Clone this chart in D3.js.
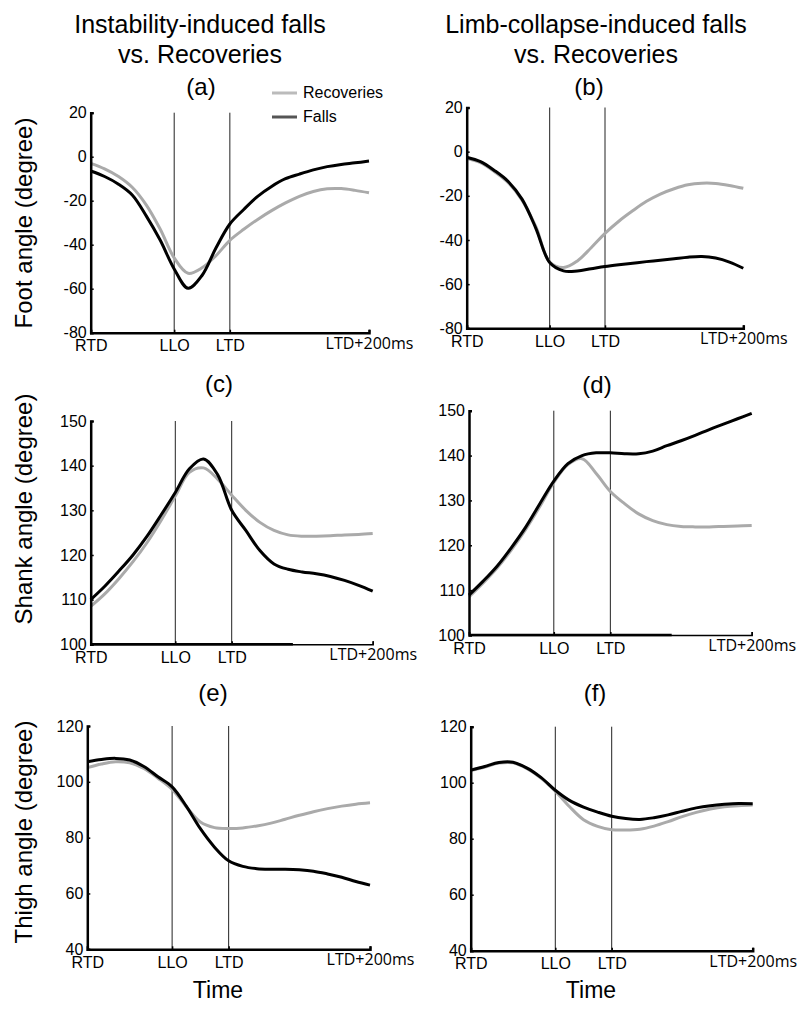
<!DOCTYPE html>
<html>
<head>
<meta charset="utf-8">
<script src="https://cdn.jsdelivr.net/npm/d3@7"></script>
<style>
  body { margin: 0; background: #fff; }
  svg { display: block; font-family: "Liberation Sans", Arial, sans-serif; }
</style>
</head>
<body>
<div id="chart"></div>
<script>
// normalised time (% of RTD -> LTD+200ms)
var timePct = [0, 5, 10, 15, 20, 25, 30, 35, 40, 45, 50, 55, 60, 65, 70, 75, 80, 85, 90, 95, 100];
var eventTicks = [0, 30, 50, 100];
var eventLabels = ["RTD", "LLO", "LTD", "LTD+200ms"];
var eventLines = [30, 50];

var footTicks = [-80, -60, -40, -20, 0, 20];
var shankTicks = [100, 110, 120, 130, 140, 150];
var thighTicks = [40, 60, 80, 100, 120];

// (a) foot, instability falls vs recoveries
var footRecA = [-3, -5.5, -9, -14, -22, -33, -46, -53, -50.5, -45, -38, -33, -28.5, -24.5, -21, -18, -15.8, -14.6, -14.5, -15.3, -16.4];
var footFallA = [-6.5, -9, -12.5, -17.5, -27, -38, -51, -59.8, -54, -41.5, -30.6, -24, -18, -13.5, -10, -7.9, -6, -4.5, -3.5, -2.8, -2];
// (b) foot, limb-collapse falls vs recoveries
var footRecB = [-3, -5, -9, -14, -22, -34, -50, -52.5, -49.5, -43.5, -37, -31.5, -26.8, -22.5, -19.2, -16.8, -15, -14.3, -14.4, -15.3, -16.6];
var footFallB = [-2.5, -4.5, -8.5, -13.5, -21.5, -34.7, -50.2, -54, -54, -53, -52, -51.2, -50.5, -49.8, -49.2, -48.5, -47.8, -47.5, -48.2, -50, -52.8];
// (c) shank, instability
var shankRecC = [108.5, 111.3, 114.7, 118.5, 122.8, 127.8, 133.2, 138.5, 139.5, 137, 133.4, 130, 127.3, 125.5, 124.5, 124.2, 124.2, 124.3, 124.5, 124.6, 124.8];
var shankFallC = [110, 113, 116.4, 120, 124.2, 129, 134, 139.3, 141.5, 138, 130, 125.5, 121, 118, 116.8, 116.2, 115.8, 115.2, 114.3, 113.2, 111.9];
// (d) shank, limb-collapse
var shankRecD = [108.5, 111.6, 115, 119, 123.5, 128.6, 134, 138, 139.3, 136, 132, 129.3, 127, 125.5, 124.6, 124.2, 124.1, 124.1, 124.2, 124.3, 124.4];
var shankFallD = [108.9, 112, 115.4, 119.5, 124, 129.2, 134.3, 138.2, 140, 140.6, 140.6, 140.4, 140.4, 141, 142.2, 143.3, 144.5, 145.8, 147, 148.2, 149.4];
// (e) thigh, instability
var thighRecE = [105.1, 106.4, 107.2, 106.8, 104.8, 101.3, 97.3, 91.1, 85.6, 83.6, 83.3, 83.5, 84.2, 85.2, 86.6, 88, 89.3, 90.4, 91.3, 92, 92.5];
var thighFallE = [107.2, 108, 108.4, 107.8, 105.5, 101.8, 98.2, 91.3, 83.2, 76.6, 71.7, 69.7, 68.9, 68.7, 68.7, 68.5, 68, 67, 65.8, 64.3, 63];
// (f) thigh, limb-collapse
var thighRecF = [104.3, 105.6, 107, 107.1, 105, 101.6, 97, 91.5, 86.8, 84.4, 83.2, 83.1, 83.4, 84.5, 86.1, 87.9, 89.4, 90.6, 91.4, 91.8, 92];
var thighFallF = [104.5, 105.8, 107.2, 107.3, 105.2, 101.8, 97.3, 93.7, 91.3, 89.5, 88, 87.2, 86.9, 87.5, 88.5, 89.8, 91, 91.8, 92.3, 92.6, 92.5];

var panels = [
  { tag: "(a)", rec: footRecA, fall: footFallA, domain: [-80, 20], ticks: footTicks,
    left: 90.7, right: 369, top: 112.7, bottom: 332.7, tagX: 201, tagY: 95 },
  { tag: "(b)", rec: footRecB, fall: footFallB, domain: [-80, 20], ticks: footTicks,
    left: 466.7, right: 743.3, top: 107.5, bottom: 328.3, tagX: 589, tagY: 95 },
  { tag: "(c)", rec: shankRecC, fall: shankFallC, domain: [100, 150], ticks: shankTicks,
    left: 90.7, right: 372.7, top: 421, bottom: 644.3, tagX: 219, tagY: 392, thickTo: 0.717 },
  { tag: "(d)", rec: shankRecD, fall: shankFallD, domain: [100, 150], ticks: shankTicks,
    left: 469, right: 751.7, top: 410.7, bottom: 635, tagX: 597, tagY: 393, thickTo: 0.717 },
  { tag: "(e)", rec: thighRecE, fall: thighFallE, domain: [40, 120], ticks: thighTicks,
    left: 87.3, right: 370, top: 726, bottom: 949.3, tagX: 213, tagY: 701 },
  { tag: "(f)", rec: thighRecF, fall: thighFallF, domain: [40, 120], ticks: thighTicks,
    left: 470.7, right: 752.7, top: 726.7, bottom: 950.7, tagX: 595, tagY: 701 }
];

var svg = d3.select("#chart")
  .append("svg")
  .attr("width", 800)
  .attr("height", 1009);

// column titles
var titles = [
  { x: 200, lines: ["Instability-induced falls", "vs. Recoveries"] },
  { x: 596, lines: ["Limb-collapse-induced falls", "vs. Recoveries"] }
];
titles.forEach(function (t) {
  t.lines.forEach(function (line, i) {
    svg.append("text")
      .attr("x", t.x)
      .attr("y", 33 + i * 30)
      .attr("text-anchor", "middle")
      .style("font-size", "25px")
      .text(line);
  });
});

// y axis labels (left column only)
var yLabels = [
  { text: "Foot angle (degree)", cy: 223 },
  { text: "Shank angle (degree)", cy: 509 },
  { text: "Thigh angle (degree)", cy: 832 }
];
yLabels.forEach(function (l) {
  svg.append("text")
    .attr("transform", "translate(32," + l.cy + ") rotate(-90)")
    .attr("text-anchor", "middle")
    .style("font-size", "24px")
    .text(l.text);
});

panels.forEach(function (p) {
  var x = d3.scaleLinear().domain([0, 100]).range([p.left, p.right]);
  var y = d3.scaleLinear().domain(p.domain).range([p.bottom, p.top]);

  var line = d3.line()
    .x(function (d, i) { return x(timePct[i]); })
    .y(function (d) { return y(d); })
    .curve(d3.curveCatmullRom.alpha(0.5));

  // event markers
  svg.selectAll(null)
    .data(eventLines)
    .enter()
    .append("line")
    .attr("x1", function (d) { return x(d); })
    .attr("x2", function (d) { return x(d); })
    .attr("y1", y(p.domain[1]))
    .attr("y2", y(p.domain[0]))
    .attr("stroke", "#222")
    .attr("stroke-width", 1);

  svg.append("path")
    .datum(p.rec)
    .attr("fill", "none")
    .attr("stroke", "#aaaaaa")
    .attr("stroke-width", 3)
    .attr("d", line);

  svg.append("path")
    .datum(p.fall)
    .attr("fill", "none")
    .attr("stroke", "#000")
    .attr("stroke-width", 3)
    .attr("d", line);

  // axes
  var gy = svg.append("g")
    .attr("transform", "translate(" + p.left + ",0)")
    .call(d3.axisLeft(y).tickValues(p.ticks).tickSize(-3).tickPadding(4)
      .tickFormat(function (d) { return String(d); }));
  gy.select(".domain").attr("stroke-width", 2.5);
  gy.selectAll(".tick line").attr("stroke-width", 1.5);
  gy.selectAll("text").style("font-size", "16px").attr("fill", "#000");

  var gx = svg.append("g")
    .attr("transform", "translate(0," + p.bottom + ")")
    .call(d3.axisBottom(x).tickValues(eventTicks).tickSize(-3)
      .tickFormat(function (d, i) { return eventLabels[i]; }));
  gx.select(".domain").attr("stroke-width", p.thickTo ? 1.5 : 2.5);
  gx.selectAll(".tick line").attr("stroke-width", 1.5);
  gx.selectAll("text")
    .attr("y", 18.5)
    .attr("dy", 0)
    .style("font-size", "16px")
    .attr("fill", "#000");
  // the last label is set in a wider face in the original
  gx.selectAll(".tick:last-of-type text")
    .attr("y", 16)
    .style("font-family", "'Open Sans', sans-serif")
    .style("font-size", "16px");
  if (p.thickTo) {
    gx.append("line")
      .attr("x1", p.left)
      .attr("x2", x(p.thickTo * 100))
      .attr("stroke", "#000")
      .attr("stroke-width", 2.5);
  }

  svg.append("text")
    .attr("x", p.tagX)
    .attr("y", p.tagY)
    .attr("text-anchor", "middle")
    .style("font-size", "24px")
    .text(p.tag);
});

// legend
var legend = [
  { name: "Recoveries", color: "#bbbbbb" },
  { name: "Falls", color: "#555555" }
];
var lg = svg.append("g").attr("transform", "translate(272,93)");
legend.forEach(function (d, i) {
  lg.append("line")
    .attr("x1", 0).attr("x2", 25)
    .attr("y1", i * 24).attr("y2", i * 24)
    .attr("stroke", d.color)
    .attr("stroke-width", 3);
  lg.append("text")
    .attr("x", 31)
    .attr("y", i * 24 + 5)
    .style("font-size", "16px")
    .text(d.name);
});

// x axis titles
[218, 591].forEach(function (cx) {
  svg.append("text")
    .attr("x", cx)
    .attr("y", 998)
    .attr("text-anchor", "middle")
    .style("font-size", "23px")
    .text("Time");
});
</script>
</body>
</html>
